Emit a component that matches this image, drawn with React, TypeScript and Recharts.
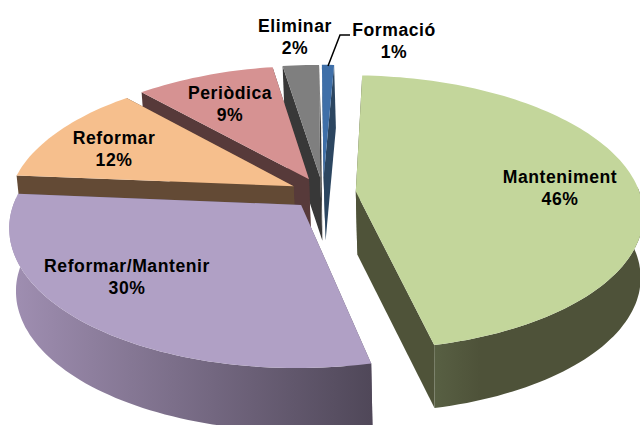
import { PieChart, Pie } from 'recharts';

const categories = ['Formació', 'Eliminar', 'Periòdica', 'Reformar', 'Reformar/Mantenir', 'Manteniment'];
// the labels show them rounded
const values = [0.8, 2.4, 9.2, 12, 29.8, 45.8];

const topColors = ['#3f6fa8', '#7f7f7f', '#d69292', '#f6bf8d', '#b0a0c5', '#c3d69b'];
const wallColors = ['#2c4660', '#383838', '#573a3a', '#634a35', '#5a5064', '#4f5339'];
// left and right end of the shaded outer wall
const arcShades: Record<string, [string, string]> = {
    'Reformar/Mantenir': ['#a08fb2', '#4f4758'],
    Manteniment: ['#596144', '#4e5239'],
};

const labelSpots: Record<string, [number, number]> = {
    Formació: [394, 30],
    Eliminar: [295, 26],
    Periòdica: [230, 93],
    Reformar: [114, 138],
    'Reformar/Mantenir': [127, 266],
    Manteniment: [560, 177],
};

const data = categories.map((name, i) => ({ name, value: values[i] }));

const W = 640;
const H = 425;
const SQUASH = 0.473; // ry / rx
const PERSP = 0.152;
const EXPLODE = 0.116;
const DEPTH = 63;
const SHRINK = 0.985;
const LOW_SHIFT = 2;
const RAD = Math.PI / 180;

function project(cx: number, cy: number, rx: number, a: number, mid: number, r: number, low: boolean) {
    // a, mid are recharts angles (0 = east, counter clockwise)
    const u = r * Math.cos(a * RAD) + EXPLODE * Math.cos(mid * RAD);
    const v = -r * Math.sin(a * RAD) - EXPLODE * Math.sin(mid * RAD);
    const w = 1 - PERSP * v;
    const x = (rx * u) / w;
    const y = (rx * SQUASH * v) / w;
    return low ? [cx + x * SHRINK + LOW_SHIFT, cy + y + DEPTH] : [cx + x, cy + y];
}

const toPath = (pts: number[][]) =>
    'M' + pts.map((p) => p[0].toFixed(1) + ',' + p[1].toFixed(1)).join('L') + 'Z';

function Slice3D(props: any) {
    const { cx, cy, outerRadius: rx, startAngle, endAngle, index, name } = props;
    const mid = (startAngle + endAngle) / 2;
    const at = (a: number, r: number, low = false) => project(cx, cy, rx, a, mid, r, low);

    const steps: number[] = [];
    for (let a = startAngle; a < endAngle; a += 1.5) steps.push(a);
    steps.push(endAngle);

    const top = [at(startAngle, 0), ...steps.map((a) => at(a, 1))];
    const wall = (a: number) => [at(a, 0), at(a, 1), at(a, 1, true), at(a, 0, true)];

    // only the near half of the rim can be seen
    const near = steps.filter((a) => Math.sin(a * RAD) <= 0.06);
    const rim = near.length > 1
        ? [...near.map((a) => at(a, 1)), ...near.slice().reverse().map((a) => at(a, 1, true))]
        : null;

    const shade = arcShades[name];
    const gradId = 'rim' + index;
    return (
        <g>
            {shade && (
                <defs>
                    <linearGradient id={gradId} gradientUnits="userSpaceOnUse"
                        x1={name === 'Manteniment' ? 430 : 10} y1={0}
                        x2={name === 'Manteniment' ? 480 : 375} y2={0}>
                        <stop offset="0" stopColor={shade[0]} />
                        <stop offset="1" stopColor={shade[1]} />
                    </linearGradient>
                </defs>
            )}
            <path d={toPath(wall(startAngle))} fill={wallColors[index]} />
            <path d={toPath(wall(endAngle))} fill={wallColors[index]} />
            {rim && <path d={toPath(rim)} fill={shade ? `url(#${gradId})` : wallColors[index]} />}
            <path d={toPath(top)} fill={topColors[index]} />
        </g>
    );
}

function SliceLabel(props: any) {
    const { name, value } = props;
    const [x, y] = labelSpots[name];
    return (
        <text x={x} y={y} textAnchor="middle" fontFamily="Liberation Sans, Arial, sans-serif"
            fontWeight="bold" fontSize={17.6} letterSpacing={0.55} fill="#000">
            <tspan x={x} dy={6}>{name}</tspan>
            <tspan x={x} dy={22}>{Math.round(value)}%</tspan>
        </text>
    );
}

function LeaderLine(props: any) {
    if (props.name !== 'Formació') return <g />;
    return <polyline points="328,66 340,35 350,35" fill="none" stroke="#000" strokeWidth={1.5} />;
}

export default function App() {
    return (
        <div style={{ position: 'absolute', left: 0, top: 0, width: W, height: H, background: '#fff' }}>
            <PieChart width={W} height={H} margin={{ top: 0, right: 0, bottom: 0, left: 0 }}>
                <Pie
                    data={data}
                    dataKey="value"
                    nameKey="name"
                    cx={323}
                    cy={193}
                    innerRadius={0}
                    outerRadius={284}
                    startAngle={87.5}
                    endAngle={447.5}
                    stroke="none"
                    shape={Slice3D}
                    label={SliceLabel}
                    labelLine={LeaderLine}
                    isAnimationActive={false}
                />
            </PieChart>
        </div>
    );
}
